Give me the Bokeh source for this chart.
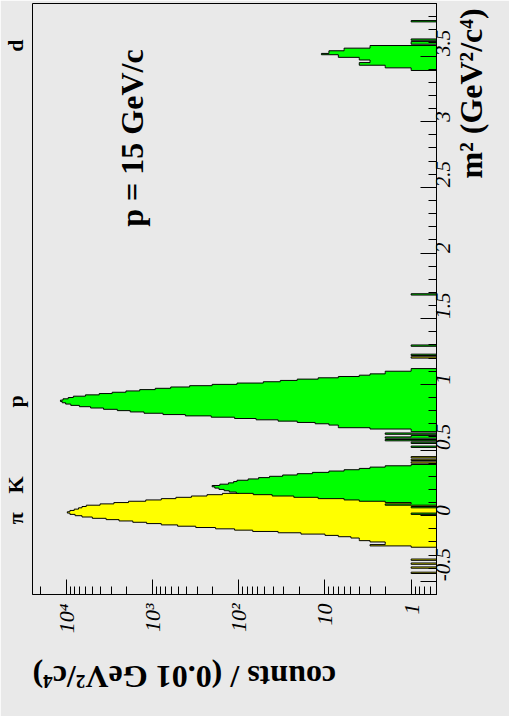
import math
import numpy as np
from bokeh.plotting import figure
from bokeh.models import (Range1d, LogTicker, SingleIntervalTicker, FixedTicker, LinearAxis,
                          Label)
from bokeh.embed import file_html
from bokeh.resources import INLINE

# ---------------- data ----------------
BIN_W = 0.01                      # GeV^2/c^4 per bin
M2_MIN, M2_MAX = -0.60, 3.90      # m^2 axis range
COUNT_MIN, COUNT_MAX = 0.508, 24790.0

# pions (yellow) - consecutive bins starting at low edge pion_start
pion_start = -0.24
pion_counts = [1, 3, 2, 2, 3, 4, 4, 5, 7, 10,
               19, 35, 69, 112, 186, 316, 513, 794, 1175, 1700,
               2455, 3467, 5012, 6607, 7943, 9120, 9772, 9120, 8128, 7244,
               6607, 5888, 4074, 2818, 1905, 1202, 794, 537, 355, 234,
               155, 100, 66, 44, 29, 19, 13, 8, 5, 3,
               2, 1]
pion_extra_m2 = [-0.44, -0.40, -0.37, -0.34, 0.40, 0.42, 0.44, 0.57, 1.20]
pion_extra_counts = [1, 1, 1, 1, 1, 1, 1, 1, 1]

# kaons, protons, deuterons (green)
kaon_start = 0.09
kaon_counts = [1, 2, 4, 6, 12, 23, 41, 68, 107, 129,
               148, 170, 190, 204, 166, 132, 115, 105, 78, 59,
               44, 31, 21, 14, 9, 6, 4, 3, 2, 1]
proton_start = 0.64
proton_counts = [1, 1, 3, 7, 7, 9, 13, 21, 35, 63,
                 112, 209, 417, 759, 1259, 1820, 2570, 3715, 5248, 7079,
                 8913, 10233, 11220, 11749, 10965, 9550, 8318, 6026, 4169, 2951,
                 2042, 1413, 933, 617, 372, 204, 105, 52, 33, 21,
                 12, 7, 4, 3, 2, 2, 1, 1]
deuteron_start = 3.39
deuteron_counts = [1, 1, 2, 2, 4, 4, 3, 3, 4, 4,
                   7, 7, 11, 9, 9, 6, 6, 3, 3, 0,
                   1, 1]
other_extra_m2 = [0.01, 0.06, 0.08, 0.52, 0.55, 0.57, 0.59, 0.60, 0.62, 1.22, 1.29, 1.68, 3.62, 3.76]
other_extra_counts = [1, 1, 2, 1, 1, 2, 2, 1, 2, 1, 1, 1, 1, 1]

m2_tick_values = [-0.5, 0, 0.5, 1, 1.5, 2, 2.5, 3, 3.5]
m2_tick_labels = ["-0.5", "0", "0.5", "1", "1.5", "2", "2.5", "3", "3.5"]
count_tick_values = [1, 10, 100, 1000, 10000]
count_tick_labels = ["1", "10", "10\u00b2", "10\u00b3", "10\u2074"]

particle_labels = ["\u03c0", "K", "p", "d"]
particle_m2 = [-0.02, 0.235, 0.87, 3.58]

x_title = "m\u00b2 (GeV\u00b2/c\u2074)"
y_title = "counts / (0.01 GeV\u00b2/c\u2074)"
momentum_text = "p = 15 GeV/c"

# ---------------- layout constants ----------------
W, H = 509, 716
FRAME_LEFT, FRAME_TOP = 32, 3
FRAME_W, FRAME_H = 405, 593
LOG_START = math.log10(COUNT_MAX)
PXD = FRAME_W / (math.log10(COUNT_MAX) - math.log10(COUNT_MIN))


def count_at_px(px):
    return 10 ** (LOG_START - (px - FRAME_LEFT) / PXD)


def m2_at_px(py):
    return M2_MAX - (py - FRAME_TOP) * (M2_MAX - M2_MIN) / FRAME_H


# ---------------- histograms ----------------
n_bins = int(round((M2_MAX - M2_MIN) / BIN_W))
edges = M2_MIN + BIN_W * np.arange(n_bins + 1)


def bin_index(m2):
    return int(round((m2 - M2_MIN) / BIN_W))


def add_run(arr, start, counts):
    i0 = bin_index(start)
    arr[i0:i0 + len(counts)] += np.array(counts, dtype=float)


def add_points(arr, m2s, counts):
    for m, c in zip(m2s, counts):
        arr[bin_index(m)] += c


h_pion = np.zeros(n_bins)
add_run(h_pion, pion_start, pion_counts)
add_points(h_pion, pion_extra_m2, pion_extra_counts)

h_other = np.zeros(n_bins)
add_run(h_other, kaon_start, kaon_counts)
add_run(h_other, proton_start, proton_counts)
add_run(h_other, deuteron_start, deuteron_counts)
add_points(h_other, other_extra_m2, other_extra_counts)

BASE = 0.1


def outline(h):
    xs, ys = [BASE], [edges[0]]
    for i, v in enumerate(h):
        val = v if v > 0 else BASE
        xs += [val, val]
        ys += [edges[i], edges[i + 1]]
    xs.append(BASE)
    ys.append(edges[-1])
    return xs, ys


p = figure(width=W, height=H, x_axis_type="log",
           x_range=Range1d(COUNT_MAX, COUNT_MIN), y_range=Range1d(M2_MIN, M2_MAX),
           y_axis_location="right", output_backend="svg", toolbar_location=None,
           title=None, min_border_left=FRAME_LEFT, min_border_right=W - FRAME_LEFT - FRAME_W,
           min_border_top=FRAME_TOP, min_border_bottom=H - FRAME_TOP - FRAME_H)

BG = "#e9e9e9"
p.background_fill_color = BG
p.border_fill_color = BG
p.outline_line_color = "black"
p.outline_line_width = 1
p.grid.visible = False

xs, ys = outline(h_pion)
p.patch(xs, ys, fill_color="#ffff00", line_color="black", line_width=1)
xs, ys = outline(h_other)
p.patch(xs, ys, fill_color="#00ff00", line_color="black", line_width=1)

FONT = "Liberation Serif"


def set_if(obj, name, val):
    if name in obj.properties():
        setattr(obj, name, val)


# bottom axis: counts (log)
xa = p.xaxis[0]
xa.ticker = LogTicker(num_minor_ticks=10)
xa.major_label_overrides = dict(zip(count_tick_values, count_tick_labels))
xa.major_tick_in = 15
xa.major_tick_out = 0
xa.minor_tick_in = 8
xa.minor_tick_out = 0
xa.axis_line_color = "black"
xa.major_tick_line_color = "black"
xa.minor_tick_line_color = "black"
xa.major_label_orientation = math.pi / 2
xa.major_label_standoff = 9
xa.major_label_text_font = FONT
xa.major_label_text_font_style = "italic"
xa.major_label_text_font_size = "22px"
xa.major_label_text_color = "black"
# upside-down title, its end placed at the left end of the rule (leading no-break spaces pad it)
xa.axis_label = "\u00a0" * 13 + y_title
xa.axis_label_text_font = FONT
xa.axis_label_text_font_style = "bold"
xa.axis_label_text_font_size = "32px"
xa.axis_label_text_color = "black"
xa.axis_label_standoff = 41
set_if(xa, "axis_label_orientation", math.pi)
set_if(xa, "axis_label_align", "end")

# right axis: m^2
ya = p.yaxis[0]
ya.ticker = SingleIntervalTicker(interval=0.5, num_minor_ticks=5)
ya.major_label_overrides = dict(zip(m2_tick_values, m2_tick_labels))
ya.major_tick_in = 16
ya.major_tick_out = 0
ya.minor_tick_in = 8
ya.minor_tick_out = 0
ya.axis_line_color = "black"
ya.major_tick_line_color = "black"
ya.minor_tick_line_color = "black"
ya.major_label_orientation = math.pi / 2
ya.major_label_standoff = 7
ya.major_label_text_font = FONT
ya.major_label_text_font_style = "italic"
ya.major_label_text_font_size = "21px"
ya.major_label_text_color = "black"
# title reading upwards from the bottom of the rule; leading no-break spaces push it to the top end
ya.axis_label = "\u00a0" * 52 + x_title
ya.axis_label_text_font = FONT
ya.axis_label_text_font_style = "bold"
ya.axis_label_text_font_size = "32px"
ya.axis_label_text_color = "black"
ya.axis_label_standoff = 10
set_if(ya, "axis_label_orientation", math.pi / 2)
set_if(ya, "axis_label_align", "start")

# left axis: particle names
pa = LinearAxis(ticker=FixedTicker(ticks=particle_m2),
                major_label_overrides=dict(zip(particle_m2, particle_labels)),
                axis_line_color=None, major_tick_line_color=None, minor_tick_line_color=None,
                major_tick_in=0, major_tick_out=0, minor_tick_in=0, minor_tick_out=0,
                major_label_orientation="parallel", major_label_standoff=4,
                major_label_text_font=FONT, major_label_text_font_style="bold",
                major_label_text_font_size="22px", major_label_text_color="black")
p.add_layout(pa, "left")

# momentum annotation inside the frame
p.add_layout(Label(x=count_at_px(132), y=m2_at_px(138), text=momentum_text,
                   angle=math.pi / 2, text_align="center", text_baseline="alphabetic",
                   text_font=FONT, text_font_style="bold", text_font_size="32px",
                   text_color="black"))

open("out.html", "w").write(file_html(p, INLINE))
